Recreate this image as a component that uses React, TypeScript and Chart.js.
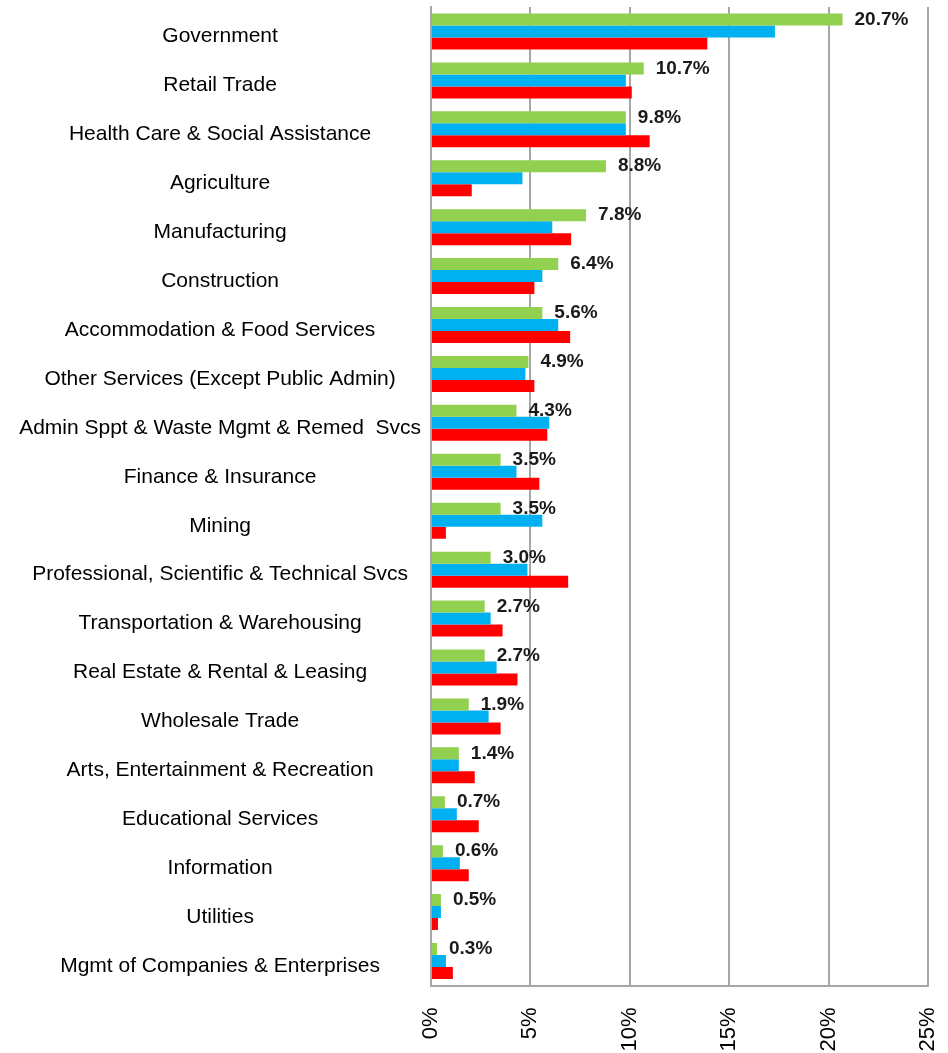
import React, { useEffect, useRef } from "react";
import { Chart, registerables } from "chart.js";

Chart.register(...registerables);

const categories = [
  "Government",
  "Retail Trade",
  "Health Care & Social Assistance",
  "Agriculture",
  "Manufacturing",
  "Construction",
  "Accommodation & Food Services",
  "Other Services (Except Public Admin)",
  "Admin Sppt & Waste Mgmt & Remed  Svcs",
  "Finance & Insurance",
  "Mining",
  "Professional, Scientific & Technical Svcs",
  "Transportation & Warehousing",
  "Real Estate & Rental & Leasing",
  "Wholesale Trade",
  "Arts, Entertainment & Recreation",
  "Educational Services",
  "Information",
  "Utilities",
  "Mgmt of Companies & Enterprises",
];

const greenValues = [20.7, 10.7, 9.8, 8.8, 7.8, 6.4, 5.6, 4.9, 4.3, 3.5, 3.5, 3.0, 2.7, 2.7, 1.9, 1.4, 0.7, 0.6, 0.5, 0.3];
const blueValues = [17.3, 9.8, 9.8, 4.6, 6.1, 5.6, 6.4, 4.75, 5.95, 4.3, 5.6, 4.85, 3.0, 3.3, 2.9, 1.4, 1.3, 1.45, 0.5, 0.75];
const redValues = [13.9, 10.1, 11.0, 2.05, 7.05, 5.2, 7.0, 5.2, 5.85, 5.45, 0.75, 6.9, 3.6, 4.35, 3.5, 2.2, 2.4, 1.9, 0.35, 1.1];

const xTicks = [0, 5, 10, 15, 20, 25];

const W = 948;
const H = 1053;

const greenLabelPlugin = {
  id: "greenLabels",
  afterDatasetsDraw(chart: any) {
    const meta = chart.getDatasetMeta(0);
    const ctx = chart.ctx;
    ctx.save();
    ctx.font = "bold 19px 'Liberation Sans', Arial, sans-serif";
    ctx.fillStyle = "#1a1a1a";
    ctx.textAlign = "left";
    ctx.textBaseline = "middle";
    meta.data.forEach((bar: any, i: number) => {
      ctx.fillText(greenValues[i].toFixed(1) + "%", bar.x + 12, bar.y);
    });
    ctx.restore();
  },
};

export default function App() {
  const ref = useRef<HTMLCanvasElement | null>(null);
  useEffect(() => {
    if (!ref.current) return;
    const chart = new Chart(ref.current, {
      type: "bar",
      data: {
        labels: categories,
        datasets: [
          { data: greenValues, backgroundColor: "#92D050", borderWidth: 0 },
          { data: blueValues, backgroundColor: "#00B0F0", borderWidth: 0 },
          { data: redValues, backgroundColor: "#FF0000", borderWidth: 0 },
        ],
      },
      options: {
        indexAxis: "y",
        responsive: false,
        animation: false,
        layout: { padding: { top: 7, right: 20, left: 0, bottom: 0 } },
        datasets: { bar: { categoryPercentage: 0.736, barPercentage: 1 } },
        plugins: {
          legend: { display: false },
          tooltip: { enabled: false },
        },
        scales: {
          x: {
            min: 0,
            max: 25,
            afterBuildTicks: (s: any) => {
              s.ticks = xTicks.map((v) => ({ value: v }));
            },
            afterFit: (s: any) => {
              s.height = 67.5;
              s.paddingLeft = 0;
              s.paddingRight = 0;
              s.paddingTop = 0;
              s.paddingBottom = 0;
            },
            grid: { color: "#a6a6a6", lineWidth: 2, drawTicks: false },
            border: { display: true, color: "#a6a6a6", width: 2 },
            ticks: {
              minRotation: 90,
              maxRotation: 90,
              padding: 22,
              color: "#000",
              font: { family: "'Liberation Sans', Arial, sans-serif", size: 22 },
              callback: (v: any) => v + "%",
            },
          },
          y: {
            type: "category",
            afterFit: (s: any) => {
              s.width = 431;
              s.paddingLeft = 0;
              s.paddingRight = 0;
              s.paddingTop = 0;
              s.paddingBottom = 0;
            },
            grid: { display: false, drawTicks: false },
            border: { display: true, color: "#a6a6a6", width: 2 },
            ticks: {
              crossAlign: "center",
              padding: 10,
              labelOffset: 5,
              color: "#000",
              autoSkip: false,
              font: { family: "'Liberation Sans', Arial, sans-serif", size: 21 },
            },
          },
        },
      },
      plugins: [greenLabelPlugin],
    });
    return () => chart.destroy();
  }, []);
  return (
    <div style={{ position: "absolute", left: 0, top: 0, width: W, height: H, background: "#fff" }}>
      <canvas ref={ref} width={W} height={H} />
    </div>
  );
}
